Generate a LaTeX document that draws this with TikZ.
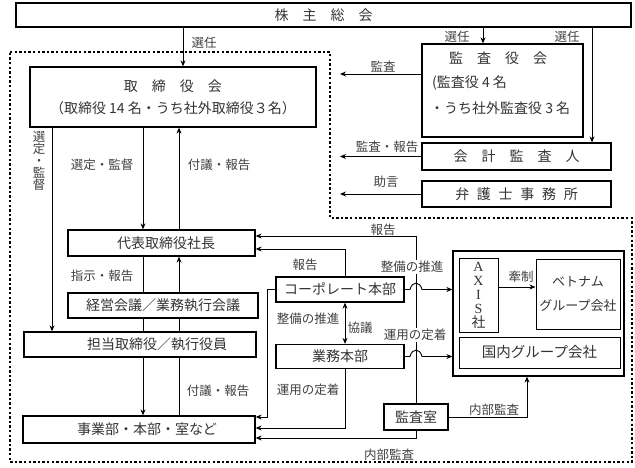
\documentclass[tikz,border=0pt]{standalone}
\usepackage{fontspec}
\setmainfont{Noto Sans CJK JP}
\newfontfamily\latserif{Liberation Serif}
\usetikzlibrary{arrows.meta,calc}
\newcommand\jsp{\hspace{0.55em}}
\begin{document}
\begin{tikzpicture}[x=1pt,y=-1pt,
  box/.style={draw, line width=1.3pt, inner sep=0pt, font=\fontsize{14}{16}\selectfont, text=black!80},
  tbox/.style={draw, line width=1pt, inner sep=0pt, font=\fontsize{14}{16}\selectfont, text=black!80},
  bt/.style={font=\fontsize{14}{16}\selectfont, text=black!80, inner sep=0pt},
  lab/.style={font=\fontsize{12.5}{14}\selectfont, text=black!75, inner sep=1pt},
  arr/.style={-{Stealth[length=6pt,width=5pt]}, line width=0.9pt},
  dblarr/.style={{Stealth[length=6pt,width=5pt]}-{Stealth[length=6pt,width=5pt]}, line width=0.9pt},
  ln/.style={line width=0.9pt},
  dots/.style={line width=2.4pt, dash pattern=on 2.4pt off 2.2pt},
]
\useasboundingbox (0,0) rectangle (635,468);

% dotted border
\draw[dots] (10,52) -- (330,52) -- (330,218) -- (632,218) -- (632,462) -- (10,462) -- cycle;

% boxes
\node[box, minimum width=615pt, minimum height=24pt] (soukai) at (323.5,15) {株　主　総　会};
\node[box, minimum width=286pt, minimum height=60pt, align=center] (tori) at (173,97) {取　締　役　会\\[6pt]（取締役 14 名・うち社外取締役３名）};
\node[box, minimum width=161pt, minimum height=93pt] (kansa) at (502.5,90.5) {};
\node[bt] (kansaA) at (498,58) {監　査　役　会};
\node[bt, anchor=west] (kansaB) at (432,83) {(監査役 4 名};
\node[bt, anchor=west] (kansaC) at (430,108) {・うち社外監査役 3 名};
\node[box, minimum width=189pt, minimum height=27pt] (kaikei) at (516.5,156.5) {会　計　監　査　人};
\node[box, minimum width=189pt, minimum height=26pt] (bengo) at (516.5,194) {弁\jsp 護\jsp 士\jsp 事\jsp 務\jsp 所};

\node[box, minimum width=187pt, minimum height=26pt] (daihyo) at (161.5,243) {\hspace*{9pt}代表取締役社長};
\node[box, minimum width=190pt, minimum height=25pt] (keiei) at (163,305.5) {経営会議／業務執行会議};
\node[box, minimum width=232pt, minimum height=25pt] (tanto) at (140,344.5) {\hspace*{34pt}担当取締役／執行役員};
\node[box, minimum width=232pt, minimum height=27pt] (jigyo) at (139,429.5) {\hspace*{16pt}事業部・本部・室など};

\node[box, minimum width=128pt, minimum height=25pt] (corp) at (340,289.5) {コーポレート本部};
\node[box, minimum width=128pt, minimum height=24pt] (gyomu) at (340,356.5) {業務本部};
\node[box, minimum width=64pt, minimum height=26pt] (kshitsu) at (416,417) {監査室};

\node[box, minimum width=171pt, minimum height=125pt] (group) at (538.5,313.5) {};
\node[tbox, minimum width=39pt, minimum height=74pt, align=center, font=\fontsize{14}{14}\selectfont] (axis) at (478.5,295) {{\latserif A}\\{\latserif X}\\{\latserif I}\\{\latserif S}\\社};
\node[tbox, minimum width=84pt, minimum height=70pt, align=center, font=\fontsize{13}{15}\selectfont] (viet) at (578,294) {ベトナム\\[9pt]グループ会社};
\node[tbox, minimum width=161pt, minimum height=31pt, font=\fontsize{14.5}{16}\selectfont] (kokunai) at (539.5,352.5) {国内グループ会社};

% helper coordinates
\coordinate (x183) at (183,0);
\coordinate (x483) at (483,0);
\coordinate (x592) at (592,0);
\coordinate (x52) at (52,0);
\coordinate (x143) at (143,0);
\coordinate (x179) at (179,0);
\coordinate (x345) at (345,0);
\coordinate (x267) at (267,0);
\coordinate (x527) at (527,0);
\coordinate (y236) at (0,236);
\coordinate (y249) at (0,249);
\coordinate (y417) at (0,417);
\coordinate (y428) at (0,428);
\coordinate (y438) at (0,438);
\coordinate (y287) at (0,287);
\coordinate (e1) at (340,74);

% top connectors
\draw[arr] (soukai.south -| x183) -- (tori.north -| x183);
\draw[arr] (soukai.south -| x483) -- (kansa.north -| x483);
\draw[arr] (soukai.south -| x592) -- (kaikei.north -| x592);
\draw[arr] (kansa.west |- e1) -- (e1);
\draw[arr] (kaikei.west) -- (kaikei.west -| e1);
\draw[arr] (bengo.west) -- (bengo.west -| e1);

% left column
\draw[arr] (tori.south -| x52) -- (tanto.north -| x52);
\draw[arr] (tori.south -| x143) -- (daihyo.north -| x143);
\draw[arr] (daihyo.north -| x179) -- (tori.south -| x179);
\draw[ln] (daihyo.south -| x143) -- (keiei.north -| x143);
\draw[arr] (keiei.north -| x179) -- (daihyo.south -| x179);
\draw[ln] (keiei.south -| x143) -- (tanto.north -| x143);
\draw[ln] (keiei.south -| x179) -- (tanto.north -| x179);
\draw[arr] (tanto.south -| x143) -- (jigyo.north -| x143);
\draw[ln] (jigyo.north -| x179) -- (tanto.south -| x179);

% middle
\draw[arr] (corp.north -| x345) |- (daihyo.east |- y249);
\draw[arr] (kshitsu.north) |- (daihyo.east |- y236);
\draw[arr] (corp.west) -| (x267 |- y417) -- (jigyo.east |- y417);
\draw[dblarr] (corp.south -| x345) -- (gyomu.north -| x345);
\draw[arr] (gyomu.south -| x345) |- (jigyo.east |- y428);
\draw[arr] (kshitsu.south) |- (jigyo.east |- y438);
\draw[arr] (kshitsu.east) -| (group.south -| x527);
\draw[arr] (axis.east |- y287) -- (viet.west |- y287);

% hops
\draw[arr] (corp.east) -- (410,289.5) .. controls (412,281) and (420,281) .. (422,289.5) -- (group.west |- corp.east);
\draw[arr] (gyomu.east) -- (410,356.5) .. controls (412,348) and (420,348) .. (422,356.5) -- (group.west |- gyomu.east);

% labels
\node[lab] at (204,43) {選任};
\node[lab] at (457,37) {選任};
\node[lab] at (567,37) {選任};
\node[lab] at (383,67) {監査};
\node[lab] at (387,147) {監査・報告};
\node[lab] at (386,182) {助言};
\node[lab, align=center, font=\fontsize{12.5}{12}\selectfont] at (39,161) {選\\定\\・\\監\\督};
\node[lab] at (102,165) {選定・監督};
\node[lab] at (219,165) {付議・報告};
\node[lab] at (102,276) {指示・報告};
\node[lab] at (218,391) {付議・報告};
\node[lab] at (305,265) {報告};
\node[lab] at (383,230) {報告};
\node[lab, fill=white] at (412,267) {整備の推進};
\node[lab] at (308,319) {整備の推進};
\node[lab] at (360,328) {協議};
\node[lab, fill=white] at (415,335) {運用の定着};
\node[lab] at (308,390) {運用の定着};
\node[lab] at (494,410) {内部監査};
\node[lab] at (389,455) {内部監査};
\node[lab] at (521,277) {牽制};
\end{tikzpicture}
\end{document}
